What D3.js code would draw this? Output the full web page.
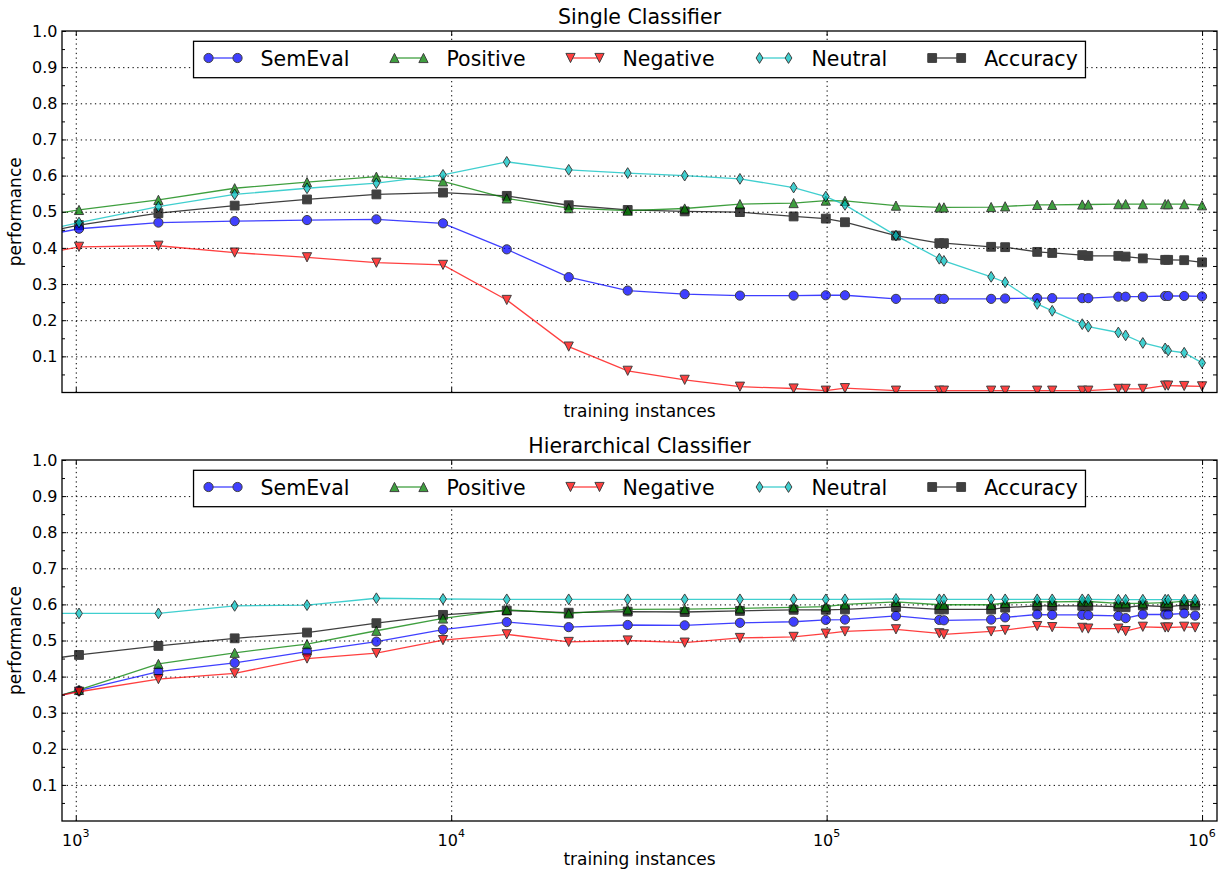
<!DOCTYPE html>
<html>
<head>
<meta charset="utf-8">
<script src="https://cdn.jsdelivr.net/npm/d3@7"></script>
<style>
body { margin: 0; background: #fff; }
text { font-family: "DejaVu Sans", sans-serif; fill: #000; }
</style>
</head>
<body>
<svg id="chart" width="1225" height="873"></svg>
<script>
// Training set sizes (first value sits left of the visible axis)
var xSingle = [500, 1020, 1660, 2650, 4130, 6320, 9510, 14060, 20560, 29520, 41870, 58760, 81670, 99500,
    111900, 153000, 199600, 205300, 274300, 298900, 363800, 398900, 479600, 497700, 598400, 625800,
    695400, 797600, 812300, 896300, 1000000];
var xHier = [500, 1020, 1660, 2650, 4130, 6320, 9510, 14060, 20560, 29520, 41870, 58760, 81670, 99500,
    111900, 153000, 199600, 205300, 274300, 298900, 363800, 398900, 479600, 497700, 598400, 625800,
    695400, 797600, 812300, 896300, 958500];

// Single classifier
var singleSemEval = [0.392, 0.453, 0.470, 0.474, 0.477, 0.479, 0.468, 0.396, 0.319, 0.282, 0.272, 0.268, 0.268, 0.269,
    0.269, 0.259, 0.259, 0.259, 0.259, 0.260, 0.261, 0.261, 0.261, 0.261, 0.265, 0.265, 0.265, 0.267, 0.267, 0.267, 0.266];
var singlePositive = [0.456, 0.505, 0.533, 0.565, 0.582, 0.597, 0.584, 0.537, 0.510, 0.503, 0.509, 0.521, 0.524, 0.531,
    0.530, 0.517, 0.512, 0.512, 0.513, 0.515, 0.519, 0.519, 0.520, 0.520, 0.521, 0.521, 0.521, 0.521, 0.521, 0.521, 0.518];
var singleNegative = [0.341, 0.403, 0.406, 0.387, 0.374, 0.359, 0.353, 0.256, 0.127, 0.060, 0.035, 0.016, 0.011, 0.005,
    0.012, 0.005, 0.005, 0.005, 0.005, 0.005, 0.005, 0.005, 0.005, 0.005, 0.010, 0.010, 0.010, 0.019, 0.019, 0.018, 0.017];
var singleNeutral = [0.398, 0.470, 0.514, 0.548, 0.565, 0.579, 0.602, 0.638, 0.616, 0.607, 0.600, 0.591, 0.567, 0.542,
    0.519, 0.434, 0.370, 0.364, 0.320, 0.305, 0.245, 0.226, 0.189, 0.182, 0.166, 0.158, 0.137, 0.122, 0.116, 0.110, 0.082];
var singleAccuracy = [0.398, 0.463, 0.496, 0.517, 0.534, 0.548, 0.553, 0.544, 0.518, 0.505, 0.501, 0.499, 0.487, 0.481,
    0.471, 0.434, 0.413, 0.413, 0.403, 0.402, 0.389, 0.386, 0.380, 0.378, 0.378, 0.376, 0.371, 0.367, 0.367, 0.366, 0.360];

// Hierarchical classifier
var hierSemEval = [0.280, 0.361, 0.414, 0.438, 0.469, 0.497, 0.530, 0.551, 0.537, 0.543, 0.542, 0.549, 0.552, 0.557,
    0.558, 0.568, 0.557, 0.556, 0.558, 0.564, 0.572, 0.571, 0.571, 0.570, 0.568, 0.562, 0.572, 0.572, 0.572, 0.575, 0.569];
var hierPositive = [0.269, 0.363, 0.435, 0.466, 0.490, 0.527, 0.561, 0.585, 0.575, 0.586, 0.587, 0.589, 0.592, 0.594,
    0.600, 0.607, 0.599, 0.599, 0.599, 0.604, 0.607, 0.607, 0.608, 0.608, 0.603, 0.603, 0.603, 0.605, 0.605, 0.609, 0.606];
var hierNegative = [0.296, 0.358, 0.393, 0.409, 0.450, 0.465, 0.501, 0.517, 0.496, 0.500, 0.494, 0.507, 0.510, 0.519,
    0.525, 0.531, 0.520, 0.517, 0.525, 0.529, 0.540, 0.537, 0.535, 0.533, 0.533, 0.526, 0.538, 0.536, 0.536, 0.538, 0.536];
var hierNeutral = [0.575, 0.575, 0.575, 0.596, 0.598, 0.617, 0.615, 0.614, 0.614, 0.614, 0.614, 0.614, 0.614, 0.614,
    0.614, 0.615, 0.614, 0.614, 0.614, 0.614, 0.614, 0.614, 0.614, 0.614, 0.613, 0.613, 0.613, 0.613, 0.613, 0.613, 0.613];
var hierAccuracy = [0.416, 0.460, 0.485, 0.506, 0.522, 0.548, 0.571, 0.583, 0.577, 0.580, 0.579, 0.582, 0.585, 0.585,
    0.586, 0.593, 0.586, 0.586, 0.586, 0.591, 0.596, 0.596, 0.596, 0.596, 0.594, 0.592, 0.597, 0.594, 0.594, 0.598, 0.597];

var seriesNames = ["SemEval", "Positive", "Negative", "Neutral", "Accuracy"];
var yTicks = [0.1, 0.2, 0.3, 0.4, 0.5, 0.6, 0.7, 0.8, 0.9, 1.0];
var yMinorTicks = [0.05, 0.15, 0.25, 0.35, 0.45, 0.55, 0.65, 0.75, 0.85, 0.95];
var xTicks = [1e3, 1e4, 1e5, 1e6];
var xTickExp = ["3", "4", "5", "6"];

// styles
var colors = ["#0000ff", "#008000", "#ff0000", "#00bfbf", "#000000"];
var shapes = ["circle", "up", "down", "diamond", "square"];
var drawOrder = [4, 0, 1, 2, 3];

var svg = d3.select("#chart");
var LEFT = 62, RIGHT = 1217;

var x = d3.scaleLog().domain([919, 1.096e6]).range([LEFT, RIGHT]);

function markerPath(shape) {
    if (shape == "circle") return "M4.6,0A4.6,4.6 0 1,1 -4.6,0A4.6,4.6 0 1,1 4.6,0Z";
    if (shape == "up") return "M0,-4.6L4.6,4.6L-4.6,4.6Z";
    if (shape == "down") return "M0,4.6L4.6,-4.6L-4.6,-4.6Z";
    if (shape == "diamond") return "M0,-5.4L3.4,0L0,5.4L-3.4,0Z";
    return "M-4.4,-4.4H4.4V4.4H-4.4Z";
}

function drawPanel(id, top, bottom, title, xs, series, showXLabels, xlabelY) {
    var y = d3.scaleLinear().domain([0, 1]).range([bottom, top]);
    var g = svg.append("g");

    g.append("clipPath").attr("id", "clip" + id)
        .append("rect").attr("x", LEFT).attr("y", top).attr("width", RIGHT - LEFT).attr("height", bottom - top);

    // grid
    g.append("g").attr("transform", "translate(" + LEFT + ",0)")
        .call(d3.axisLeft(y).tickValues(yTicks.slice(0, 9)).tickSize(-(RIGHT - LEFT)).tickFormat(""))
        .call(function(a) { a.select(".domain").remove(); })
        .selectAll("line").attr("stroke", "#000").attr("stroke-width", 1).attr("stroke-dasharray", "1.3,3.4");
    g.append("g").attr("transform", "translate(0," + bottom + ")")
        .call(d3.axisBottom(x).tickValues(xTicks).tickSize(-(bottom - top)).tickFormat(""))
        .call(function(a) { a.select(".domain").remove(); })
        .selectAll("line").attr("stroke", "#000").attr("stroke-width", 1).attr("stroke-dasharray", "1.3,3.4");

    // data
    var plot = g.append("g").attr("clip-path", "url(#clip" + id + ")");
    drawOrder.forEach(function(i) {
        var pts = xs.map(function(d, k) { return [d, series[i][k]]; });
        var line = d3.line().x(function(d) { return x(d[0]); }).y(function(d) { return y(d[1]); });
        var s = plot.append("g").attr("opacity", 0.75);
        s.append("path").attr("d", line(pts)).attr("fill", "none")
            .attr("stroke", colors[i]).attr("stroke-width", 1.3);
        s.selectAll("path.mk").data(pts).enter().append("path").attr("class", "mk")
            .attr("d", markerPath(shapes[i]))
            .attr("transform", function(d) { return "translate(" + x(d[0]) + "," + y(d[1]) + ")"; })
            .attr("fill", colors[i]).attr("stroke", "#000").attr("stroke-width", 1);
    });

    // ticks
    g.append("g").attr("transform", "translate(" + LEFT + ",0)")
        .call(d3.axisLeft(y).tickValues(yTicks).tickSize(-4).tickPadding(4.5).tickFormat(d3.format(".1f")))
        .call(function(a) { a.select(".domain").remove(); })
        .selectAll("text").attr("font-size", "16px").attr("font-family", "DejaVu Sans");
    g.append("g").attr("transform", "translate(" + LEFT + ",0)")
        .call(d3.axisLeft(y).tickValues(yMinorTicks).tickSize(-3).tickFormat(""))
        .call(function(a) { a.select(".domain").remove(); });
    g.append("g").attr("transform", "translate(" + RIGHT + ",0)")
        .call(d3.axisRight(y).tickValues(yTicks.concat(yMinorTicks)).tickSize(-4).tickFormat(""))
        .call(function(a) { a.select(".domain").remove(); });
    g.append("g").attr("transform", "translate(0," + bottom + ")")
        .call(d3.axisBottom(x).tickValues(xTicks).tickSize(-5).tickFormat(""))
        .call(function(a) { a.select(".domain").remove(); });
    g.append("g").attr("transform", "translate(0," + top + ")")
        .call(d3.axisTop(x).tickValues(xTicks).tickSize(-5).tickFormat(""))
        .call(function(a) { a.select(".domain").remove(); });

    if (showXLabels) {
        xTicks.forEach(function(t, k) {
            var lab = g.append("text").attr("x", x(t)).attr("y", bottom + 25)
                .attr("text-anchor", "middle").attr("font-size", "16px");
            lab.append("tspan").text("10");
            lab.append("tspan").attr("font-size", "11px").attr("dy", -9).text(xTickExp[k]);
        });
    }

    // frame
    g.append("rect").attr("x", LEFT).attr("y", top).attr("width", RIGHT - LEFT).attr("height", bottom - top)
        .attr("fill", "none").attr("stroke", "#000").attr("stroke-width", 1.3);

    // title and labels
    g.append("text").attr("x", (LEFT + RIGHT) / 2).attr("y", top - 6.7)
        .attr("text-anchor", "middle").attr("font-size", "20.5px").text(title);
    g.append("text").attr("x", (LEFT + RIGHT) / 2).attr("y", xlabelY)
        .attr("text-anchor", "middle").attr("font-size", "17px").text("training instances");
    g.append("text").attr("transform", "translate(21," + (top + bottom) / 2 + ") rotate(-90)")
        .attr("text-anchor", "middle").attr("font-size", "17px").text("performance");

    // legend
    var leg = g.append("g");
    var box = leg.append("rect").attr("fill", "#fff").attr("stroke", "#000").attr("stroke-width", 1.3);
    var cx = 0;
    var items = [];
    seriesNames.forEach(function(name, i) {
        var it = leg.append("g").attr("transform", "translate(" + cx + ",0)");
        var its = it.append("g").attr("opacity", 0.75);
        its.append("line").attr("x1", 0).attr("x2", 29).attr("y1", 0).attr("y2", 0)
            .attr("stroke", colors[i]).attr("stroke-width", 1.3);
        [0, 29].forEach(function(mx) {
            its.append("path").attr("d", markerPath(shapes[i])).attr("transform", "translate(" + mx + ",0)")
                .attr("fill", colors[i]).attr("stroke", "#000").attr("stroke-width", 1);
        });
        var t = it.append("text").attr("x", 52).attr("y", 7.5).attr("font-size", "20.5px").text(name);
        var w = t.node().getComputedTextLength();
        items.push(cx + 52 + w);
        cx = cx + 52 + w + 45;
    });
    var boxLeft = -15, boxRight = items[items.length - 1] + 7.7;
    box.attr("x", boxLeft).attr("y", -16.7).attr("width", boxRight - boxLeft).attr("height", 36.4);
    var shift = (LEFT + RIGHT) / 2 - (boxLeft + boxRight) / 2;
    leg.attr("transform", "translate(" + shift + "," + (top + 27) + ")");
}

drawPanel("a", 31, 392.5, "Single Classifier", xSingle,
    [singleSemEval, singlePositive, singleNegative, singleNeutral, singleAccuracy], false, 417);
drawPanel("b", 460, 821, "Hierarchical Classifier", xHier,
    [hierSemEval, hierPositive, hierNegative, hierNeutral, hierAccuracy], true, 865);
</script>
</body>
</html>
